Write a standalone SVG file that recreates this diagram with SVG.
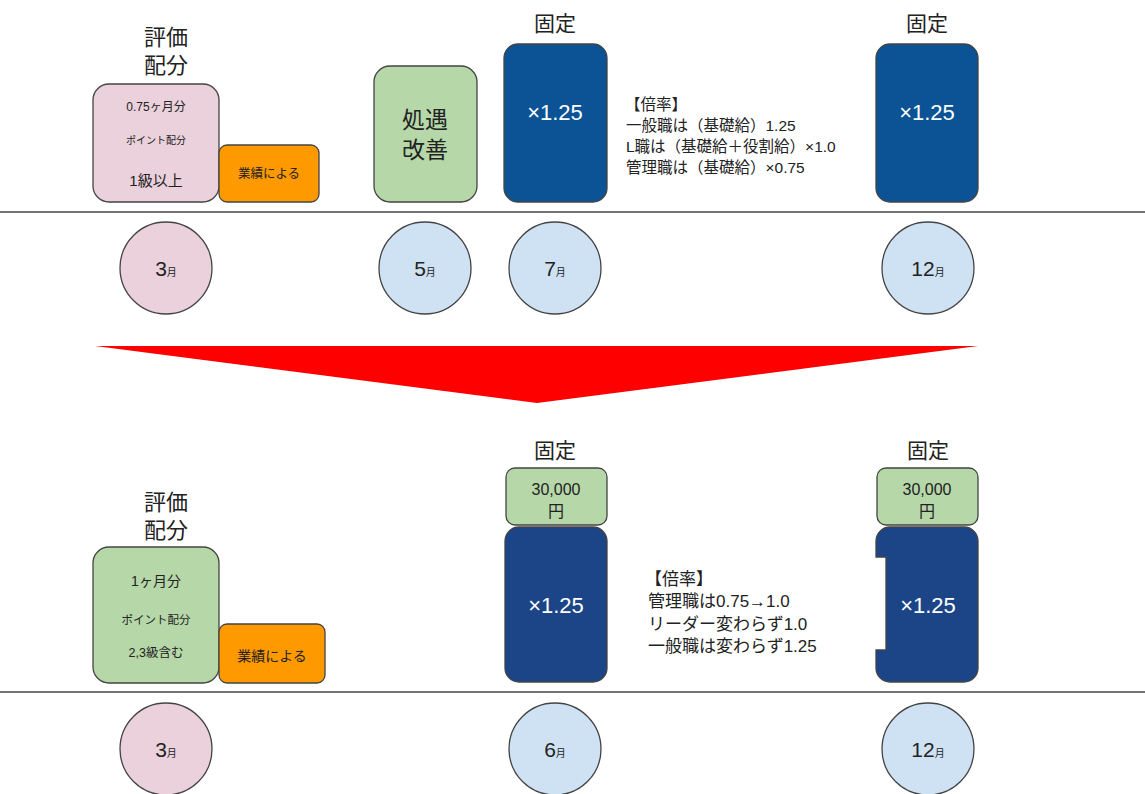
<svg xmlns="http://www.w3.org/2000/svg" width="1145" height="794" viewBox="0 0 1145 794">
<style>
text{font-family:"Liberation Sans","Noto Sans CJK JP",sans-serif;fill:#222;}
.c{text-anchor:middle;}
.box{stroke:#444;stroke-width:1.3;}
.pink{fill:#ead1dc;}
.green{fill:#b6d7a8;}
.orange{fill:#ff9900;}
.blue1{fill:#0b5394;}
.blue2{fill:#1c4587;}
.lb{fill:#cfe2f3;}
.w{fill:#ffffff;}
.hl{stroke:#444;stroke-width:1.3;}
.big{font-size:22px;}
.mid{font-size:21px;}
.x{font-size:22px;}
.note{font-size:15.5px;}
.note2{font-size:17px;}
.d{font-size:21px;}
.m{font-size:10px;}
</style>
<rect width="1145" height="794" fill="#ffffff"/>
<g id="connectors">
<line class="hl" x1="0" y1="212" x2="1145" y2="212"/>
<line class="hl" x1="0" y1="692" x2="1145" y2="692"/>
<polygon id="arrow" points="95,346 978,346 537,403" fill="#ff0000"/>
</g>
<!-- top section -->
<g id="label-hyouka-top"><text class="c big" x="166" y="45">評価</text><text class="c big" x="166" y="73">配分</text></g>
<g id="pink-top"><rect class="box pink" x="93" y="84" width="126" height="118" rx="16"/>
<text class="c" x="156" y="111" font-size="12">0.75ヶ月分</text>
<text class="c" x="156" y="144" font-size="10">ポイント配分</text>
<text class="c" x="156" y="186" font-size="15">1級以上</text></g>
<g id="orange-top"><rect class="box orange" x="219" y="145" width="100" height="57" rx="8"/>
<text class="c" x="269" y="178" font-size="12.5">業績による</text></g>
<g id="shogu"><rect class="box green" x="374" y="66" width="103" height="136" rx="16"/>
<text class="c" x="425" y="128" font-size="23">処遇</text><text class="c" x="425" y="158" font-size="23">改善</text></g>
<g id="kotei-top1"><text class="c mid" x="555" y="31">固定</text>
<rect class="box blue1" x="504" y="44" width="103" height="158" rx="14"/>
<text class="c w x" x="555" y="120">×1.25</text></g>
<g id="note-top"><text class="note" x="625" y="110">【倍率】</text>
<text class="note" x="626" y="131">一般職は（基礎給）1.25</text>
<text class="note" x="626" y="152">L職は（基礎給＋役割給）×1.0</text>
<text class="note" x="626" y="173">管理職は（基礎給）×0.75</text></g>
<g id="kotei-top2"><text class="c mid" x="927" y="31">固定</text>
<rect class="box blue1" x="876" y="44" width="102" height="158" rx="14"/>
<text class="c w x" x="927" y="120">×1.25</text></g>
<g id="m3-top"><circle class="box pink" cx="166" cy="268" r="46"/><text class="c" x="166" y="276"><tspan class="d">3</tspan><tspan class="m">月</tspan></text></g>
<g id="m5-top"><circle class="box lb" cx="425" cy="268" r="46"/><text class="c" x="425" y="276"><tspan class="d">5</tspan><tspan class="m">月</tspan></text></g>
<g id="m7-top"><circle class="box lb" cx="555" cy="268" r="46"/><text class="c" x="555" y="276"><tspan class="d">7</tspan><tspan class="m">月</tspan></text></g>
<g id="m12-top"><circle class="box lb" cx="928" cy="268" r="46"/><text class="c" x="928" y="276"><tspan class="d">12</tspan><tspan class="m">月</tspan></text></g>
<!-- bottom section -->
<g id="label-hyouka-bot"><text class="c big" x="166" y="510">評価</text><text class="c big" x="166" y="538">配分</text></g>
<g id="green-bot"><rect class="box green" x="93" y="547" width="126" height="136" rx="16"/>
<text class="c" x="156" y="586" font-size="14">1ヶ月分</text>
<text class="c" x="156" y="624" font-size="11.5">ポイント配分</text>
<text class="c" x="156" y="657" font-size="12.5">2,3級含む</text></g>
<g id="orange-bot"><rect class="box orange" x="219" y="624" width="106" height="59" rx="8"/>
<text class="c" x="272" y="661" font-size="14">業績による</text></g>
<g id="kotei-bot1"><text class="c mid" x="555" y="458">固定</text>
<rect class="box green" x="506" y="468" width="101" height="57" rx="9"/>
<text class="c" x="556" y="495" font-size="16">30,000</text><text class="c" x="556" y="517" font-size="16">円</text>
<rect class="box blue2" x="505" y="527" width="102" height="155" rx="14"/>
<text class="c w x" x="556" y="613">×1.25</text></g>
<g id="note-bot"><text class="note2" x="645" y="585">【倍率】</text>
<text class="note2" x="648" y="607">管理職は0.75→1.0</text>
<text class="note2" x="648" y="630">リーダー変わらず1.0</text>
<text class="note2" x="648" y="652">一般職は変わらず1.25</text></g>
<g id="kotei-bot2"><text class="c mid" x="928" y="458">固定</text>
<rect class="box green" x="877" y="468" width="101" height="57" rx="9"/>
<text class="c" x="927" y="495" font-size="16">30,000</text><text class="c" x="927" y="517" font-size="16">円</text>
<path class="box blue2" d="M890,527 H964 A14,14 0 0 1 978,541 V668 A14,14 0 0 1 964,682 H890 A14,14 0 0 1 876,668 V650 H886 V557 H876 V541 A14,14 0 0 1 890,527 Z"/>
<text class="c w x" x="928" y="613">×1.25</text></g>
<g id="m3-bot"><circle class="box pink" cx="166" cy="749" r="46"/><text class="c" x="166" y="757"><tspan class="d">3</tspan><tspan class="m">月</tspan></text></g>
<g id="m6-bot"><circle class="box lb" cx="555" cy="749" r="46"/><text class="c" x="555" y="757"><tspan class="d">6</tspan><tspan class="m">月</tspan></text></g>
<g id="m12-bot"><circle class="box lb" cx="928" cy="749" r="46"/><text class="c" x="928" y="757"><tspan class="d">12</tspan><tspan class="m">月</tspan></text></g>
</svg>
